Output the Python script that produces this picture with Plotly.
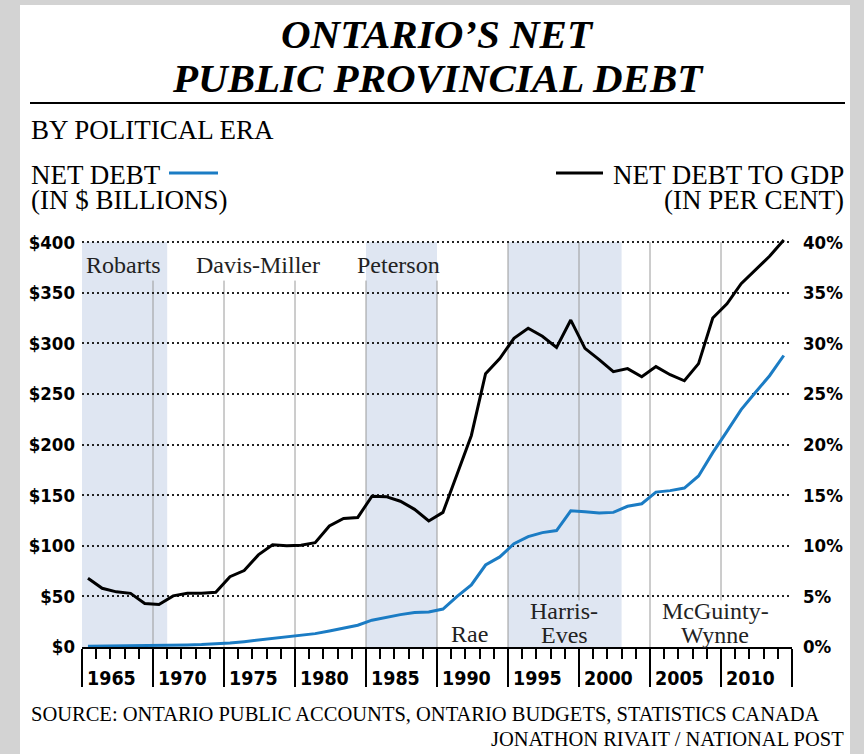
import plotly.graph_objects as go

# ---------------- data ----------------
years = list(range(1965, 2015))  # fiscal years 1965-66 ... 2014-15
net_debt_bn = [0.8, 0.9, 1.0, 1.1, 1.2, 1.4, 1.7, 2.0, 2.4, 3.0,
               4.0, 5.3, 6.8, 8.3, 9.8, 11.2, 13.2, 15.8, 18.8, 21.5,
               26.5, 29.5, 32.0, 34.0, 34.5, 37.5, 50.0, 61.4, 81.0, 89.0,
               102.0, 109.0, 113.0, 115.0, 134.5, 133.5, 132.5, 133.0, 139.0, 141.5,
               153.0, 154.5, 157.0, 169.0, 192.0, 213.0, 234.5, 251.5, 268.0, 288.0]
debt_to_gdp_pct = [6.8, 5.8, 5.45, 5.3, 4.3, 4.2, 5.05, 5.3, 5.3, 5.4,
                   6.95, 7.55, 9.1, 10.1, 10.0, 10.05, 10.3, 11.95, 12.7, 12.8,
                   14.9, 14.85, 14.4, 13.6, 12.45, 13.3, 17.1, 20.9, 27.0, 28.5,
                   30.5, 31.5, 30.7, 29.6, 32.3, 29.5, 28.4, 27.2, 27.5, 26.7,
                   27.7, 26.9, 26.3, 28.0, 32.5, 33.9, 35.9, 37.3, 38.6, 40.2]

era_names = ["Robarts", "Davis-Miller", "Peterson", "Rae", "Harris-Eves", "McGuinty-Wynne"]
era_start = [1965, 1971, 1985, 1990, 1995, 2003]
era_end = [1971, 1985, 1990, 1995, 2003, 2015]
era_shaded = [True, False, True, False, True, False]

debt_ticks = [0, 50, 100, 150, 200, 250, 300, 350, 400]
debt_tick_labels = ["$0", "$50", "$100", "$150", "$200", "$250", "$300", "$350", "$400"]
pct_ticks = [0, 5, 10, 15, 20, 25, 30, 35, 40]
pct_tick_labels = ["0%", "5%", "10%", "15%", "20%", "25%", "30%", "35%", "40%"]
year_ticks = [1965, 1970, 1975, 1980, 1985, 1990, 1995, 2000, 2005, 2010]
year_tick_labels = ["1965", "1970", "1975", "1980", "1985", "1990", "1995", "2000", "2005", "2010"]

# ---------------- styling ----------------
BLUE = "#1b7cc4"
SHADE = "#dfe6f2"
PAGE_GRAY = "#d3d3d3"
SERIF = "Liberation Serif, Times New Roman, serif"
COND = "Liberation Sans Narrow, DejaVu Sans Condensed, Arial Narrow, sans-serif"

W, H = 864, 754
ML, MR, MT, MB = 82, 72, 232, 107
PW, PH = W - ML - MR, H - MT - MB
X_OFF = 0.42  # points sit inside each fiscal-year slot

def px_x(px):
    return (px - ML) / PW

def px_y(py):
    return (H - MB - py) / PH

xs = [y + X_OFF for y in years]

fig = go.Figure()
fig.add_trace(go.Scatter(x=xs, y=net_debt_bn, mode="lines", yaxis="y",
                         line=dict(color=BLUE, width=3), hoverinfo="skip"))
fig.add_trace(go.Scatter(x=xs, y=debt_to_gdp_pct, mode="lines", yaxis="y2",
                         line=dict(color="black", width=3), hoverinfo="skip"))

shapes = []
# page card
shapes.append(dict(type="rect", xref="paper", yref="paper", x0=px_x(20), x1=px_x(850),
                   y0=px_y(5), y1=px_y(H + 5), fillcolor="white", line=dict(width=0), layer="below"))
# era shading
for s, e, sh in zip(era_start, era_end, era_shaded):
    if sh:
        shapes.append(dict(type="rect", xref="x", yref="y", x0=s, x1=e, y0=0, y1=400,
                           fillcolor=SHADE, line=dict(width=0), layer="below"))
# vertical year lines (broken where era names sit)
vline_ranges = {1970: (0, 362), 1975: (0, 362), 1980: (0, 362), 1985: (0, 362), 1990: (0, 362),
                1995: (0, 400), 2000: (46, 400), 2005: (0, 400), 2010: (46, 400)}
for yr, (a, b) in vline_ranges.items():
    shapes.append(dict(type="line", xref="x", yref="y", x0=yr, x1=yr, y0=a, y1=b,
                       line=dict(color="#9a9a9a", width=1), layer="below"))
# header rule
shapes.append(dict(type="line", xref="paper", yref="paper", x0=px_x(30), x1=px_x(845),
                   y0=px_y(103), y1=px_y(103), line=dict(color="black", width=2)))
# legend keys
shapes.append(dict(type="line", xref="paper", yref="paper", x0=px_x(169), x1=px_x(218),
                   y0=px_y(173), y1=px_y(173), line=dict(color=BLUE, width=3)))
shapes.append(dict(type="line", xref="paper", yref="paper", x0=px_x(556), x1=px_x(603),
                   y0=px_y(173), y1=px_y(173), line=dict(color="black", width=3)))

ann = []
def txt(text, x, y, size, family=SERIF, xanchor="center", xref="paper", yref="paper", color="black"):
    ann.append(dict(text=text, x=x, y=y, xref=xref, yref=yref, xanchor=xanchor, yanchor="middle",
                    showarrow=False, font=dict(family=family, size=size, color=color)))

txt("<b><i>ONTARIO’S NET</i></b>", px_x(437), px_y(34), 41)
txt("<b><i>PUBLIC PROVINCIAL DEBT</i></b>", px_x(438), px_y(78), 41)
txt("BY POLITICAL ERA", px_x(29), px_y(130), 27, xanchor="left")
txt("NET DEBT", px_x(29), px_y(175), 27, xanchor="left")
txt("(IN $ BILLIONS)", px_x(29), px_y(200), 27, xanchor="left")
txt("NET DEBT TO GDP", px_x(846), px_y(175), 27, xanchor="right")
txt("(IN PER CENT)", px_x(846), px_y(200), 27, xanchor="right")
txt("SOURCE: ONTARIO PUBLIC ACCOUNTS, ONTARIO BUDGETS, STATISTICS CANADA", px_x(29), px_y(714), 20.5, xanchor="left")
txt("JONATHON RIVAIT / NATIONAL POST", px_x(846), px_y(739), 20.5, xanchor="right")

# x tick labels sit to the right of the long major ticks
for yv, lab in zip(year_ticks, year_tick_labels):
    ann.append(dict(text="<b>" + lab + "</b>", x=yv, y=px_y(678), xref="x", yref="paper",
                    xanchor="left", yanchor="middle", xshift=3, showarrow=False,
                    font=dict(family=COND, size=19.5, color="black")))

# era names
era_label_pos = {
    "Robarts": [("Robarts", 377)],
    "Davis-Miller": [("Davis-Miller", 377)],
    "Peterson": [("Peterson", 377)],
    "Rae": [("Rae", 12.8)],
    "Harris-Eves": [("Harris-", 35.5), ("Eves", 12.0)],
    "McGuinty-Wynne": [("McGuinty-", 35.5), ("Wynne", 12.0)],
}
era_label_x = {"Robarts": 1967.9, "Davis-Miller": 1977.4, "Peterson": 1987.3,
               "Rae": 1992.3, "Harris-Eves": 1998.95, "McGuinty-Wynne": 2009.6}
for name in era_names:
    for line_text, yv in era_label_pos[name]:
        ann.append(dict(text=line_text, x=era_label_x[name], y=yv, xref="x", yref="y",
                        xanchor="center", yanchor="middle", showarrow=False,
                        font=dict(family=SERIF, size=24, color="#222")))

fig.update_layout(
    width=W, height=H, margin=dict(l=ML, r=MR, t=MT, b=MB, pad=0),
    paper_bgcolor=PAGE_GRAY, plot_bgcolor="white", showlegend=False,
    shapes=shapes, annotations=ann,
    xaxis=dict(range=[1965, 2015], tickmode="linear", tick0=1965, dtick=5,
               ticks="outside", ticklen=38, tickwidth=1.5, tickcolor="black",
               showticklabels=False, showgrid=False, zeroline=False,
               showline=True, linecolor="black", linewidth=1.5,
               minor=dict(ticks="outside", ticklen=10, tickwidth=1.5, tickcolor="black",
                          tickmode="linear", tick0=1965, dtick=1, showgrid=False)),
    yaxis=dict(range=[0, 410], tickmode="array", tickvals=debt_ticks, ticktext=debt_tick_labels,
               showgrid=True, gridcolor="#222", gridwidth=1.5, griddash="2px,3px",
               zeroline=False, showline=False, ticks="", ticklabelstandoff=6,
               tickfont=dict(family=COND, size=18.5, color="black", weight="bold")),
    yaxis2=dict(range=[0, 41], overlaying="y", side="right", tickmode="array",
                tickvals=pct_ticks, ticktext=pct_tick_labels, showgrid=False,
                zeroline=False, showline=False, ticks="", ticklabelstandoff=10,
                tickfont=dict(family=COND, size=18.5, color="black", weight="bold")),
)

fig.write_html("out.html", config={"displayModeBar": False},
               post_script="document.body.style.margin='0';")
